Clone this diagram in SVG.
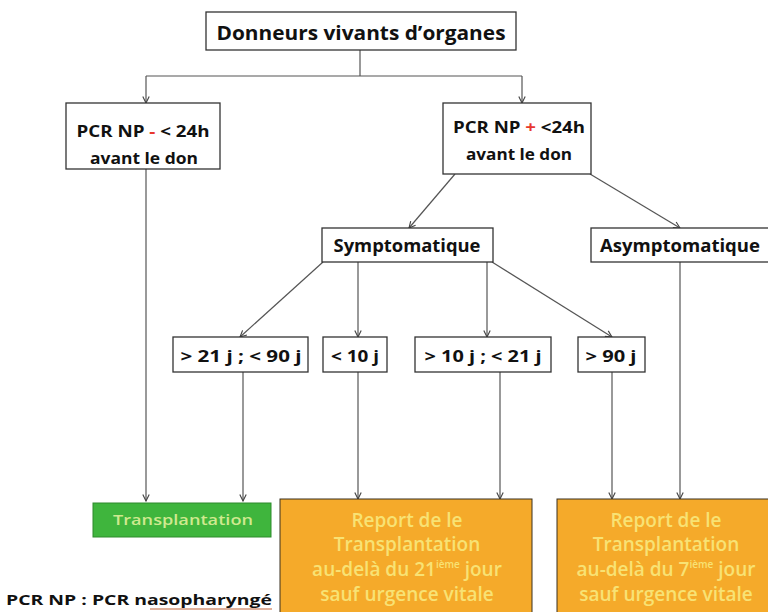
<svg xmlns="http://www.w3.org/2000/svg" width="768" height="612" viewBox="0 0 768 612">
<defs>
<style>
.box{fill:#fff;stroke:#333;stroke-width:1.3}
.t{font-family:"Open Sans","Liberation Sans",sans-serif;font-weight:700;fill:#111;text-anchor:middle}
.w{font-family:"Open Sans","Liberation Sans",sans-serif;font-weight:600;text-anchor:middle}
.c{fill:none;stroke:#555;stroke-width:1.2}
</style>
<marker id="arr" viewBox="0 0 10 10" refX="9" refY="5" markerWidth="8" markerHeight="8" orient="auto-start-reverse" markerUnits="userSpaceOnUse">
<path d="M1,1 L9,5 L1,9" fill="none" stroke="#444" stroke-width="1.4"/>
</marker>
</defs>
<rect width="768" height="612" fill="#fff"/>

<g id="connectors">
<path class="c" d="M360,50 V76"/>
<path class="c" d="M146,76 H522"/>
<path class="c" d="M146,76 V103" marker-end="url(#arr)"/>
<path class="c" d="M522,76 V103" marker-end="url(#arr)"/>
<path class="c" d="M146,169 V501" marker-end="url(#arr)"/>
<path class="c" d="M455,174 L409,228" marker-end="url(#arr)"/>
<path class="c" d="M590,174 L680,228" marker-end="url(#arr)"/>
<path class="c" d="M323,262 L240,337" marker-end="url(#arr)"/>
<path class="c" d="M358,262 V337" marker-end="url(#arr)"/>
<path class="c" d="M487,262 V337" marker-end="url(#arr)"/>
<path class="c" d="M492,262 L612,337" marker-end="url(#arr)"/>
<path class="c" d="M680,262 V499" marker-end="url(#arr)"/>
<path class="c" d="M243,372 V501" marker-end="url(#arr)"/>
<path class="c" d="M358,372 V499" marker-end="url(#arr)"/>
<path class="c" d="M500,372 V499" marker-end="url(#arr)"/>
<path class="c" d="M612,372 V499" marker-end="url(#arr)"/>
</g>

<g id="donneurs">
<rect class="box" x="206" y="12" width="310" height="38"/>
<text class="t" x="361" y="40" font-size="20" textLength="289" lengthAdjust="spacingAndGlyphs">Donneurs vivants d’organes</text>
</g>

<g id="pcr-neg">
<rect class="box" x="66" y="103" width="154" height="66"/>
<text class="t" x="143" y="137" font-size="16" textLength="133" lengthAdjust="spacingAndGlyphs">PCR NP <tspan fill="#e8382e">-</tspan> &lt; 24h</text>
<text class="t" x="144" y="164" font-size="16" textLength="108" lengthAdjust="spacingAndGlyphs">avant le don</text>
</g>

<g id="pcr-pos">
<rect class="box" x="443" y="103" width="148" height="71"/>
<text class="t" x="519" y="133" font-size="16" textLength="132" lengthAdjust="spacingAndGlyphs">PCR NP <tspan fill="#e8382e">+</tspan> &lt;24h</text>
<text class="t" x="519" y="160" font-size="16" textLength="106" lengthAdjust="spacingAndGlyphs">avant le don</text>
</g>

<g id="symptomatique">
<rect class="box" x="322" y="228" width="171" height="34"/>
<text class="t" x="407" y="252" font-size="17" textLength="147" lengthAdjust="spacingAndGlyphs">Symptomatique</text>
</g>

<g id="asymptomatique">
<rect class="box" x="591" y="228" width="180" height="34"/>
<text class="t" x="680" y="252" font-size="17" textLength="160" lengthAdjust="spacingAndGlyphs">Asymptomatique</text>
</g>

<g id="d21-90">
<rect class="box" x="173" y="337" width="135" height="35"/>
<text class="t" x="241" y="362" font-size="16" textLength="121" lengthAdjust="spacingAndGlyphs">&gt; 21 j ; &lt; 90 j</text>
</g>
<g id="d10">
<rect class="box" x="323" y="337" width="64" height="35"/>
<text class="t" x="355" y="362" font-size="16" textLength="48" lengthAdjust="spacingAndGlyphs">&lt; 10 j</text>
</g>
<g id="d10-21">
<rect class="box" x="415" y="337" width="136" height="35"/>
<text class="t" x="483" y="362" font-size="16" textLength="117" lengthAdjust="spacingAndGlyphs">&gt; 10 j ; &lt; 21 j</text>
</g>
<g id="d90">
<rect class="box" x="578" y="337" width="67" height="35"/>
<text class="t" x="611" y="362" font-size="16" textLength="51" lengthAdjust="spacingAndGlyphs">&gt; 90 j</text>
</g>

<g id="transplantation">
<rect x="93" y="503" width="178" height="34" fill="#3fb53d" stroke="#2e8a2c" stroke-width="1"/>
<text class="w" x="183" y="525" font-size="15" fill="#cfe98f" textLength="140" lengthAdjust="spacingAndGlyphs">Transplantation</text>
</g>

<g id="report21">
<rect x="280" y="499" width="252" height="118" fill="#f5aa2a" stroke="#3a3020" stroke-width="1"/>
<g class="w" font-size="19" fill="#f8e274">
<text x="407" y="527">Report de le</text>
<text x="407" y="551">Transplantation</text>
<text x="407" y="576">au-delà du 21<tspan font-size="10" dy="-8">ième</tspan><tspan dy="8"> jour</tspan></text>
<text x="407" y="601">sauf urgence vitale</text>
</g>
</g>

<g id="report7">
<rect x="557" y="499" width="220" height="118" fill="#f5aa2a" stroke="#3a3020" stroke-width="1"/>
<g class="w" font-size="19" fill="#f8e274">
<text x="666" y="527">Report de le</text>
<text x="666" y="551">Transplantation</text>
<text x="666" y="576">au-delà du 7<tspan font-size="10" dy="-8">ième</tspan><tspan dy="8"> jour</tspan></text>
<text x="666" y="601">sauf urgence vitale</text>
</g>
</g>

<g id="legend">
<text x="6" y="605" font-family="Open Sans, Liberation Sans, sans-serif" font-weight="700" font-size="15" fill="#111" textLength="266" lengthAdjust="spacingAndGlyphs">PCR NP : PCR nasopharyngé</text>
<line x1="150" y1="609" x2="272" y2="609" stroke="#c0643a" stroke-width="1.2"/>
</g>
</svg>
